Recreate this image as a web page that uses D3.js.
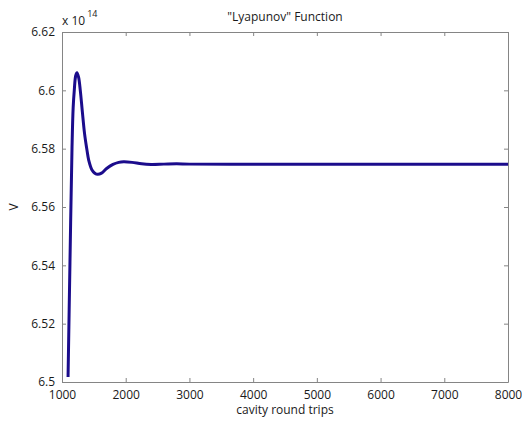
<!DOCTYPE html>
<html>
<head>
<meta charset="utf-8">
<script src="https://cdn.jsdelivr.net/npm/d3@7"></script>
<style>
  body { margin: 0; background: #fff; }
  text { font-family: "Open Sans", sans-serif; fill: #1a1a1a; }
  .axis path, .axis line { stroke: #858585; }
  .axis text { font-size: 12px; fill: #1a1a1a; }
</style>
</head>
<body>
<div id="chart"></div>
<script>
// cavity round trips vs V (in units of 1e14)
const roundTrips = [1095, 1125, 1157, 1175, 1193, 1215, 1235, 1260, 1287, 1320, 1355, 1392, 1419, 1471, 1515, 1560, 1620, 1700, 1800, 1890, 1968, 2100, 2250, 2400, 2600, 2800, 3000, 4000, 5000, 6000, 7000, 8000]
const vValues = [6.5017, 6.541, 6.5801, 6.594, 6.6001, 6.6050, 6.6060, 6.6045, 6.6000, 6.5925, 6.5850, 6.5795, 6.5761, 6.5727, 6.5716, 6.5712, 6.5716, 6.5732, 6.5746, 6.5753, 6.5755, 6.5753, 6.5748, 6.5746, 6.5747, 6.5748, 6.5747, 6.5747, 6.5747, 6.5747, 6.5747, 6.5747]

const xTicks = [1000, 2000, 3000, 4000, 5000, 6000, 7000, 8000]
const yTicks = [6.5, 6.52, 6.54, 6.56, 6.58, 6.6, 6.62]

const titleText = "\"Lyapunov\" Function"
const xLabel = "cavity round trips"
const yLabel = "V"

const points = roundTrips.map((x, i) => ({x: x, v: vValues[i]}))

const margin = {top: 32, right: 14, bottom: 39, left: 62},
    width = 522 - margin.left - margin.right,
    height = 421 - margin.top - margin.bottom;

const svg = d3.select("#chart")
    .append("svg")
    .attr("width", 522)
    .attr("height", 421)

const g = svg.append("g")
    .attr("transform", "translate(" + margin.left + "," + margin.top + ")")

const x = d3.scaleLinear().domain([1000, 8000]).range([0, width])
const y = d3.scaleLinear().domain([6.5, 6.62]).range([height, 0])

// bottom / left axes with labels, ticks pointing inward
g.append("g")
    .attr("class", "axis")
    .attr("transform", "translate(0," + height + ")")
    .call(d3.axisBottom(x).tickValues(xTicks).tickFormat(d3.format("d")).tickSizeInner(-4).tickSizeOuter(0).tickPadding(8))

g.append("g")
    .attr("class", "axis")
    .call(d3.axisLeft(y).tickValues(yTicks).tickFormat(d => String(+d.toFixed(2))).tickSizeInner(-4).tickSizeOuter(0).tickPadding(7))

// mirrored top / right axes, no labels
g.append("g")
    .attr("class", "axis")
    .call(d3.axisTop(x).tickValues(xTicks).tickFormat("").tickSizeInner(-4).tickSizeOuter(0))

g.append("g")
    .attr("class", "axis")
    .attr("transform", "translate(" + width + ",0)")
    .call(d3.axisRight(y).tickValues(yTicks).tickFormat("").tickSizeInner(-4).tickSizeOuter(0))

const line = d3.line()
    .x(d => x(d.x))
    .y(d => y(d.v))
    .curve(d3.curveCatmullRom.alpha(0.5))

g.append("path")
    .datum(points)
    .attr("fill", "none")
    .attr("stroke", "#1b0c8c")
    .attr("stroke-width", 3)
    .attr("stroke-linejoin", "round")
    .attr("d", line)

// title and labels
svg.append("text")
    .attr("x", margin.left + width / 2)
    .attr("y", 21)
    .attr("text-anchor", "middle")
    .style("font-size", "12px")
    .text(titleText)

svg.append("text")
    .attr("x", margin.left + width / 2)
    .attr("y", 414)
    .attr("text-anchor", "middle")
    .style("font-size", "12px")
    .text(xLabel)

svg.append("text")
    .attr("transform", "translate(18," + (margin.top + height / 2) + ") rotate(-90)")
    .attr("text-anchor", "middle")
    .style("font-size", "12px")
    .text(yLabel)

const expo = svg.append("text")
    .attr("x", margin.left)
    .attr("y", 25)
    .style("font-size", "12px")
expo.append("tspan").text("x 10")
expo.append("tspan").attr("dx", 2).attr("dy", -8).style("font-size", "9px").text("14")
</script>
</body>
</html>
